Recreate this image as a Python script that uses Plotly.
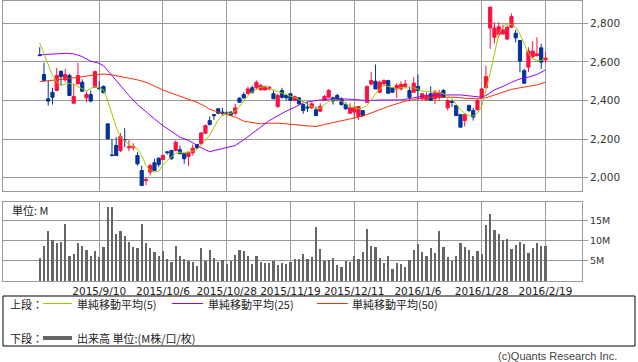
import plotly.graph_objects as go

# ---------------- data ----------------
bar_index = list(range(120))

opens = [2636, 2535, 2409, 2443, 2452, 2552, 2507, 2530, 2386, 2486,
         2495, 2414, 2431, 2469, 2466, 2473, 2279, 2118, 2167, 2141,
         2198, 2155, 2155, 2115, 2037, 1985, 2029, 2077, 2101, 2094,
         2134, 2141, 2141, 2145, 2124, 2110, 2129, 2172, 2176, 2231,
         2296, 2327, 2357, 2340, 2336, 2340, 2334, 2412, 2431, 2435,
         2466, 2466, 2455, 2455, 2460, 2435, 2369, 2452, 2426, 2435,
         2400, 2414, 2379, 2366, 2362, 2352, 2345, 2400, 2417, 2414,
         2426, 2409, 2379, 2334, 2340, 2317, 2348, 2391, 2486, 2500,
         2443, 2486, 2504, 2466, 2460, 2460, 2473, 2452, 2443, 2473,
         2409, 2403, 2435, 2409, 2417, 2452, 2362, 2395, 2374, 2327,
         2296, 2374, 2348, 2352, 2417, 2466, 2776, 2728, 2742, 2745,
         2719, 2780, 2749, 2711, 2555, 2573, 2628, 2633, 2673, 2611]
highs = [2676, 2595, 2504, 2466, 2569, 2555, 2564, 2538, 2486, 2595,
         2510, 2448, 2452, 2555, 2500, 2478, 2279, 2201, 2210, 2231,
         2257, 2196, 2179, 2132, 2063, 2003, 2072, 2098, 2106, 2120,
         2137, 2145, 2193, 2167, 2124, 2132, 2172, 2174, 2236, 2276,
         2317, 2331, 2360, 2362, 2345, 2345, 2383, 2417, 2443, 2473,
         2478, 2504, 2486, 2478, 2473, 2452, 2435, 2466, 2435, 2438,
         2426, 2417, 2383, 2391, 2391, 2369, 2386, 2429, 2460, 2421,
         2435, 2417, 2391, 2386, 2366, 2369, 2348, 2478, 2547, 2587,
         2504, 2510, 2507, 2470, 2490, 2500, 2507, 2473, 2521, 2535,
         2440, 2443, 2473, 2455, 2455, 2460, 2409, 2403, 2374, 2327,
         2331, 2379, 2362, 2409, 2466, 2581, 2887, 2806, 2806, 2794,
         2789, 2852, 2766, 2714, 2564, 2676, 2707, 2728, 2694, 2650]
lows = [2633, 2504, 2374, 2379, 2448, 2478, 2495, 2426, 2386, 2486,
        2445, 2391, 2391, 2466, 2455, 2440, 2201, 2110, 2112, 2133,
        2158, 2137, 2141, 2063, 1956, 1960, 2011, 2037, 2055, 2094,
        2120, 2094, 2137, 2124, 2072, 2060, 2115, 2150, 2172, 2227,
        2270, 2300, 2330, 2322, 2327, 2320, 2322, 2391, 2409, 2435,
        2435, 2460, 2452, 2452, 2452, 2409, 2362, 2409, 2400, 2400,
        2397, 2379, 2331, 2340, 2357, 2322, 2340, 2397, 2414, 2379,
        2397, 2374, 2352, 2331, 2305, 2300, 2314, 2391, 2478, 2460,
        2438, 2478, 2435, 2440, 2414, 2452, 2466, 2400, 2443, 2400,
        2400, 2400, 2400, 2383, 2400, 2414, 2348, 2366, 2322, 2262,
        2265, 2340, 2296, 2348, 2414, 2466, 2668, 2697, 2725, 2742,
        2714, 2776, 2702, 2547, 2486, 2547, 2616, 2628, 2564, 2593]
closes = [2633, 2504, 2397, 2417, 2530, 2524, 2535, 2426, 2421, 2530,
          2448, 2431, 2397, 2550, 2462, 2440, 2201, 2115, 2115, 2213,
          2196, 2160, 2162, 2072, 1960, 1991, 2063, 2037, 2068, 2115,
          2130, 2098, 2184, 2124, 2098, 2132, 2153, 2155, 2232, 2270,
          2276, 2322, 2334, 2333, 2333, 2325, 2362, 2391, 2414, 2460,
          2443, 2495, 2478, 2473, 2470, 2409, 2426, 2417, 2414, 2400,
          2421, 2383, 2348, 2362, 2383, 2322, 2369, 2421, 2452, 2397,
          2400, 2379, 2357, 2362, 2366, 2369, 2322, 2473, 2504, 2460,
          2495, 2504, 2438, 2443, 2478, 2483, 2486, 2417, 2490, 2452,
          2435, 2426, 2400, 2443, 2441, 2417, 2400, 2391, 2322, 2262,
          2327, 2348, 2314, 2400, 2460, 2524, 2884, 2776, 2783, 2766,
          2780, 2835, 2725, 2604, 2490, 2656, 2656, 2642, 2599, 2621]
volumes = [5.7, 8.6, 12.3, 10.2, 9.4, 9.6, 14.0, 6.1, 6.6, 9.4,
           8.6, 7.6, 6.1, 7.4, 5.9, 8.3, 18.3, 18.3, 11.6, 12.4,
           11.1, 9.7, 8.3, 8.2, 14.0, 9.4, 8.2, 7.1, 6.1, 7.4,
           5.4, 4.7, 8.6, 6.1, 5.4, 5.0, 4.6, 3.6, 8.2, 5.0,
           7.6, 5.7, 4.7, 5.1, 4.2, 5.0, 6.4, 7.6, 7.4, 6.1,
           4.2, 6.1, 4.6, 4.5, 4.5, 5.0, 3.9, 4.4, 4.1, 4.6,
           5.4, 5.4, 6.6, 5.4, 5.9, 13.4, 7.9, 5.0, 5.1, 5.6,
           3.9, 3.5, 4.9, 4.6, 6.1, 5.4, 7.1, 12.8, 8.6, 8.3,
           5.6, 4.4, 6.1, 2.9, 4.4, 4.1, 3.5, 5.1, 7.6, 9.1,
           7.1, 6.1, 8.1, 6.9, 12.3, 8.3, 5.9, 4.9, 6.1, 9.3,
           8.3, 7.6, 6.1, 7.4, 6.6, 13.8, 16.5, 12.6, 11.7, 10.2,
           10.4, 7.9, 8.8, 9.6, 9.1, 6.9, 8.1, 9.3, 8.6, 8.6]
ma5 = [2699, 2642, 2581, 2530, 2495, 2478, 2486, 2488, 2484, 2473,
       2462, 2450, 2462, 2473, 2466, 2455, 2400, 2331, 2262, 2210,
       2193, 2172, 2160, 2150, 2115, 2063, 2037, 2029, 2034, 2068,
       2089, 2106, 2127, 2132, 2132, 2132, 2137, 2146, 2167, 2196,
       2222, 2262, 2300, 2322, 2331, 2334, 2345, 2369, 2400, 2426,
       2447, 2460, 2469, 2473, 2466, 2455, 2447, 2438, 2429, 2422,
       2417, 2405, 2391, 2379, 2369, 2362, 2360, 2379, 2397, 2403,
       2403, 2397, 2383, 2369, 2362, 2357, 2362, 2374, 2403, 2435,
       2460, 2478, 2473, 2466, 2462, 2466, 2466, 2466, 2466, 2459,
       2448, 2448, 2447, 2443, 2441, 2435, 2426, 2409, 2379, 2352,
       2334, 2322, 2319, 2334, 2369, 2452, 2542, 2642, 2745, 2783,
       2797, 2794, 2780, 2745, 2690, 2645, 2616, 2607, 2607, 2624]
ma25_idx = [0, 3, 6, 8, 10, 12, 14, 15, 16, 17, 18, 19, 21, 23, 25, 27, 29, 31,
            33, 35, 37, 39, 40, 42, 44, 46, 48, 50, 52, 54, 56, 58, 60, 62,
            65, 69, 73, 77, 81, 85, 88, 91, 95, 99, 102, 104, 105, 107, 109,
            111, 113, 115, 117, 119]
ma25_val = [2637, 2642, 2645, 2642, 2628, 2604, 2593, 2581, 2555, 2530, 2504,
            2476, 2426, 2379, 2340, 2305, 2270, 2239, 2210, 2193, 2167, 2144,
            2135, 2146, 2158, 2167, 2196, 2227, 2262, 2296, 2322, 2345, 2365,
            2388, 2400, 2409, 2407, 2400, 2403, 2403, 2414, 2426, 2429, 2429,
            2422, 2417, 2426, 2455, 2473, 2495, 2512, 2521, 2535, 2559]
ma50_idx = [0, 3, 6, 9, 12, 14, 15, 17, 19, 21, 23, 25, 27, 29, 31, 33, 35,
            37, 39, 40, 42, 44, 46, 48, 50, 52, 54, 56, 58, 60, 63, 65, 67,
            69, 71, 73, 75, 77, 79, 81, 82, 84, 86, 88, 90, 92, 94, 96, 98,
            100, 102, 103, 105, 107, 109, 111, 113, 115, 117, 119]
ma50_val = [2498, 2504, 2512, 2521, 2530, 2538, 2538, 2533, 2524, 2517, 2507,
            2495, 2473, 2455, 2438, 2422, 2405, 2391, 2369, 2355, 2340, 2327,
            2314, 2293, 2286, 2279, 2283, 2283, 2279, 2276, 2270, 2265, 2276,
            2286, 2293, 2305, 2314, 2327, 2345, 2362, 2369, 2383, 2397, 2405,
            2414, 2417, 2417, 2417, 2417, 2412, 2409, 2409, 2414, 2429, 2443,
            2458, 2466, 2473, 2481, 2495]
tick_idx = [14, 29, 44, 59, 74, 89, 104, 119]
tick_labels = ["2015/9/10", "2015/10/6", "2015/10/28", "2015/11/19",
               "2015/12/11", "2016/1/6", "2016/1/28", "2016/2/19"]
price_ticks = [2000, 2200, 2400, 2600, 2800]
price_labels = ["2,000", "2,200", "2,400", "2,600", "2,800"]
vol_ticks = [5, 10, 15]
vol_labels = ["5M", "10M", "15M"]

# ---------------- style ----------------
W, H = 638, 362
ML, MR, MT, MB = 3, 56, 1, 81
PW, PH = W - ML - MR, H - MT - MB
RED, BLUE = "#ff0f3f", "#003399"
GRID = "#999999"
JP = "Noto Sans CJK JP"
LAT = "Liberation Sans, Arial, sans-serif"
DJV = "DejaVu Sans"


def px(x):
    return (x - ML) / PW


def py(y):
    return (H - MB - y) / PH


fig = go.Figure()
fig.add_trace(go.Candlestick(
    x=bar_index, open=opens, high=highs, low=lows, close=closes,
    increasing=dict(line=dict(color=RED, width=1), fillcolor=RED),
    decreasing=dict(line=dict(color=BLUE, width=1), fillcolor=BLUE),
    whiskerwidth=0, showlegend=False, xaxis="x", yaxis="y",
    hoverinfo="skip"))
fig.add_trace(go.Scatter(x=ma50_idx, y=ma50_val, mode="lines",
                         line=dict(color="#ff3300", width=1),
                         showlegend=False, xaxis="x", yaxis="y"))
fig.add_trace(go.Scatter(x=ma25_idx, y=ma25_val, mode="lines",
                         line=dict(color="#9900ff", width=1),
                         showlegend=False, xaxis="x", yaxis="y"))
fig.add_trace(go.Scatter(x=bar_index, y=ma5, mode="lines",
                         line=dict(color="#99cc00", width=1),
                         showlegend=False, xaxis="x", yaxis="y"))
fig.add_trace(go.Bar(x=bar_index, y=volumes, width=0.55,
                     marker=dict(color="#666666", line=dict(width=0)),
                     showlegend=False, xaxis="x2", yaxis="y2"))

xr = [-8.64, 127.6]
top_bottom = 191
vol_top = 202
common_x = dict(range=xr, tickvals=tick_idx, showgrid=True, gridcolor=GRID,
                gridwidth=1, showline=True, linecolor=GRID, linewidth=1,
                mirror=True, zeroline=False, fixedrange=True)
fig.update_layout(
    width=W, height=H, margin=dict(l=ML, r=MR, t=MT, b=MB),
    paper_bgcolor="white", plot_bgcolor="white",
    boxgap=0.25, boxgroupgap=0.0,
    bargap=0,
    xaxis=dict(domain=[0, 1], anchor="y", showticklabels=False,
               rangeslider=dict(visible=False), **common_x),
    yaxis=dict(domain=[py(top_bottom), 1], anchor="x", range=[1931, 2916],
               side="right", tickvals=price_ticks, ticktext=price_labels,
               ticks="outside", ticklen=5, tickcolor=GRID,
               showgrid=True, gridcolor=GRID, gridwidth=1,
               showline=True, linecolor=GRID, mirror=True, zeroline=False,
               tickfont=dict(family=DJV, size=10.5, color="#333333")),
    xaxis2=dict(domain=[0, 1], anchor="y2", ticktext=tick_labels,
                ticks="", tickfont=dict(family=DJV, size=10.5, color="#222222"),
                **common_x),
    yaxis2=dict(domain=[0, py(vol_top)], anchor="x2", range=[0, 19.5],
                side="right", tickvals=vol_ticks, ticktext=vol_labels,
                ticks="outside", ticklen=5, tickcolor=GRID,
                showgrid=True, gridcolor=GRID, gridwidth=1,
                showline=True, linecolor=GRID, mirror=True, zeroline=False,
                tickfont=dict(family=DJV, size=9.5, color="#333333")),
)

shapes = []
annotations = []
# legend box
shapes.append(dict(type="rect", xref="paper", yref="paper",
                   x0=px(3), x1=px(635), y0=py(346), y1=py(296),
                   line=dict(color="#000000", width=1), fillcolor="rgba(0,0,0,0)"))
row1, row2 = 303.5, 338
for (x0, x1, col, wd, yy) in [(43, 72, "#99cc00", 1, row1),
                              (172, 203, "#9900ff", 1, row1),
                              (317, 348, "#ff3300", 1, row1),
                              (43, 72, "#666666", 4, row2)]:
    shapes.append(dict(type="line", xref="paper", yref="paper",
                       x0=px(x0), x1=px(x1), y0=py(yy), y1=py(yy),
                       line=dict(color=col, width=wd)))


def txt(s, x, y, anchor="left", size=11, color="#222222", fam=JP):
    annotations.append(dict(text=s, x=px(x), y=py(y), xref="paper", yref="paper",
                            xanchor=anchor, yanchor="middle", showarrow=False,
                            borderpad=0,
                            font=dict(family=fam, size=size, color=color)))


txt("上段：", 9, row1)
txt("単純移動平均(5)", 76, row1)
txt("単純移動平均(25)", 207, row1)
txt("単純移動平均(50)", 351, row1)
txt("下段：", 9, row2)
txt("出来高 単位:(M株/口/枚)", 76, row2)
txt("単位: M", 11, 210)
txt("(c)Quants Research Inc.", 618, 356, anchor="right", color="#444444", fam=LAT)

fig.update_layout(shapes=shapes, annotations=annotations)
fig.write_html("out.html", config={"displayModeBar": False},
               post_script="document.body.style.margin='0';"
                           "document.body.style.padding='0';")
